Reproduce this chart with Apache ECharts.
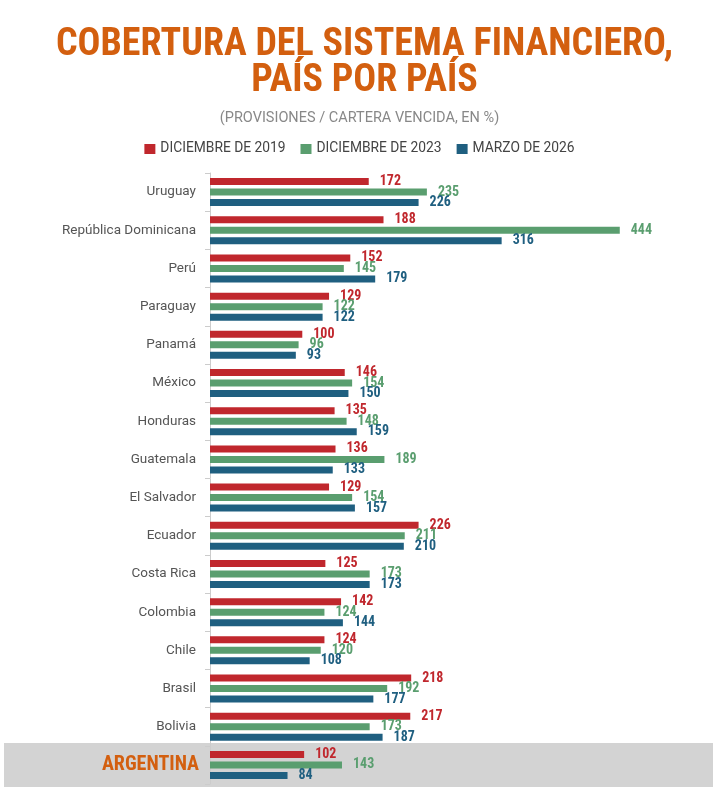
<!DOCTYPE html>
<html><head><meta charset="utf-8">
<script src="https://cdn.jsdelivr.net/npm/echarts@6/dist/echarts.min.js"></script>
<style>html,body{margin:0;padding:0;background:#fff}#c{width:719px;height:800px}</style>
</head><body><div id="c"></div>
<script>
const categories = ['Uruguay','República Dominicana','Perú','Paraguay','Panamá','México','Honduras','Guatemala','El Salvador','Ecuador','Costa Rica','Colombia','Chile','Brasil','Bolivia','ARGENTINA'];
const dic2019 = [172,188,152,129,100,146,135,136,129,226,125,142,124,218,217,102];
const dic2023 = [235,444,145,122,96,154,148,189,154,211,173,124,120,192,173,143];
const mar2026 = [226,316,179,122,93,150,159,133,157,210,173,144,108,177,187,84];
const seriesNames = ['DICIEMBRE DE 2019','DICIEMBRE DE 2023','MARZO DE 2026'];
const colors = ['#c0272d','#5a9e6f','#1f5f80'];
const condensed = '"Roboto Condensed","Liberation Sans Narrow","DejaVu Sans Condensed",Roboto,sans-serif';

const chart = echarts.init(document.getElementById('c'));
function mk(name, data, color){
  return {
    name, type:'bar', data, barWidth:7, barGap:'50%',
    itemStyle:{color},
    label:{show:true, position:'right', distance:11, color, fontWeight:'bold', fontSize:14, fontFamily:condensed}
  };
}
chart.setOption({
  animation:false,
  title:[
    {text:'COBERTURA DEL SISTEMA FINANCIERO,\nPAÍS POR PAÍS', left:359.5, top:22, textAlign:'center',
     textStyle:{color:'#d35f0f', fontSize:38, fontWeight:'bold', fontFamily:condensed, lineHeight:36}},
    {text:'(PROVISIONES / CARTERA VENCIDA, EN %)', left:'center', top:106,
     textStyle:{color:'#888', fontSize:14.5, fontWeight:'normal', fontFamily:'Roboto,sans-serif'}}
  ],
  legend:{top:137, left:'center', itemWidth:11, itemHeight:10, itemGap:15, icon:'rect',
    textStyle:{color:'#444', fontSize:13.8, fontFamily:'Roboto,sans-serif'}, data:seriesNames},
  grid:{left:210, right:66, top:173, bottom:16},
  xAxis:{type:'value', min:0, max:480, show:false},
  yAxis:{type:'category', inverse:true, data:categories,
    axisLine:{lineStyle:{color:'#cccccc'}},
    axisTick:{show:true, length:5, lineStyle:{color:'#cccccc'}},
    axisLabel:{margin:14, color:'#555', fontSize:13.5, fontFamily:'Roboto,sans-serif',
      formatter:v=> v==='ARGENTINA' ? '{a|'+v+'}' : v,
      rich:{a:{color:'#d35f0f', fontSize:20, fontWeight:'bold', fontFamily:condensed, padding:[0,-3,0,0]}}}
  },
  series:[mk(seriesNames[0],dic2019,colors[0]), mk(seriesNames[1],dic2023,colors[1]), mk(seriesNames[2],mar2026,colors[2])]
});
const yc = chart.convertToPixel({yAxisIndex:0}, 'ARGENTINA');
chart.setOption({graphic:[{type:'rect', z:-10, silent:true, shape:{x:4, y:yc-22, width:709, height:44}, style:{fill:'#d3d3d3'}}]});
</script></body></html>
